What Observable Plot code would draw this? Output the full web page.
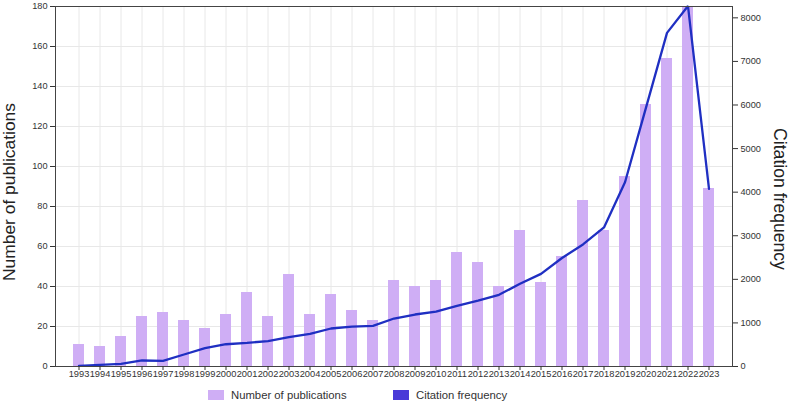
<!DOCTYPE html>
<html>
<head>
<meta charset="utf-8">
<script src="https://cdn.jsdelivr.net/npm/d3@7"></script>
<script src="https://cdn.jsdelivr.net/npm/@observablehq/plot@0.6"></script>
<style>
  html, body { margin: 0; padding: 0; background: #fff; }
  body { width: 789px; height: 405px; overflow: hidden; font-family: "Liberation Sans", Arial, sans-serif; }
  #legend { position: relative; height: 20px; font-size: 11.3px; color: #333; }
  .item { position: absolute; top: 0; height: 20px; display: flex; align-items: center; }
  .sw { width: 16px; height: 10px; margin-right: 7px; }
</style>
</head>
<body>
<div id="chart"></div>
<div id="legend"></div>
<script>
const years = ["1993","1994","1995","1996","1997","1998","1999","2000","2001","2002","2003","2004","2005","2006","2007","2008","2009","2010","2011","2012","2013","2014","2015","2016","2017","2018","2019","2020","2021","2022","2023"];
const publications = [11,10,15,25,27,23,19,26,37,25,46,26,36,28,23,43,40,43,57,52,40,68,42,55,83,68,95,131,154,180,89];
const citations = [16,39,62,138,131,275,420,511,544,580,672,750,872,917,933,1101,1193,1261,1392,1514,1644,1897,2126,2490,2800,3190,4227,5940,7654,8270,4076];
const leftTicks = [0,20,40,60,80,100,120,140,160,180];
const rightTicks = [0,1000,2000,3000,4000,5000,6000,7000,8000];
const leftMax = 180;
const rightMax = 8260;
const barColor = "#cfaef5";
const lineColor = "#1f2fc2";
const legendLineColor = "#4a3ad8";

const data = years.map((y, i) => ({year: y, pubs: publications[i], cit: citations[i]}));
const toLeft = v => v * leftMax / rightMax;

const W = 789, H = 385, mL = 55, mR = 57, mT = 6, mB = 19;

const plot = Plot.plot({
  width: W, height: H,
  marginLeft: mL, marginRight: mR, marginTop: mT, marginBottom: mB,
  style: {fontFamily: "Liberation Sans, Arial, sans-serif", color: "#333", background: "#fff"},
  x: {type: "band", domain: years, paddingInner: 0.5, paddingOuter: 0.25, label: null},
  y: {domain: [0, leftMax], label: null},
  marks: [
    Plot.gridY(leftTicks, {stroke: "#e8e8e8", strokeOpacity: 1}),
    Plot.gridX(years, {stroke: "#e8e8e8", strokeOpacity: 1}),
    Plot.barY(data, {x: "year", y: "pubs", fill: barColor}),
    Plot.line(data, {x: "year", y: d => toLeft(d.cit), stroke: lineColor, strokeWidth: 2.3, strokeLinejoin: "miter"}),
    Plot.frame({stroke: "#444", strokeWidth: 1}),
    Plot.axisY(leftTicks, {anchor: "left", tickSize: 5, tickPadding: 3, fontSize: 9.2, stroke: "#333", label: null}),
    Plot.axisY(rightTicks.map(toLeft), {anchor: "right", tickSize: 5, tickPadding: 3, fontSize: 9.2, stroke: "#333", label: null,
      tickFormat: d => String(Math.round(d * rightMax / leftMax))}),
    Plot.axisX({anchor: "bottom", tickSize: 4, tickPadding: 0, fontSize: 9.3, stroke: "#333", label: null})
  ]
});
document.getElementById("chart").appendChild(plot);

// axis titles
const svg = d3.select(plot);
const yScale = plot.scale("y");
const midY = (yScale.range[0] + yScale.range[1]) / 2;
svg.append("text")
  .attr("transform", `translate(15,${midY + 6}) rotate(-90)`)
  .attr("text-anchor", "middle")
  .attr("font-size", 17.4)
  .attr("fill", "#222")
  .style("font-family", "Liberation Sans, Arial, sans-serif")
  .text("Number of publications");
svg.append("text")
  .attr("transform", `translate(774,${midY + 13}) rotate(90)`)
  .attr("text-anchor", "middle")
  .attr("font-size", 17.6)
  .attr("fill", "#222")
  .style("font-family", "Liberation Sans, Arial, sans-serif")
  .text("Citation frequency");

// legend
const legendItems = [
  {label: "Number of publications", color: barColor, left: 208},
  {label: "Citation frequency", color: legendLineColor, left: 393}
];
const lg = d3.select("#legend");
legendItems.forEach(it => {
  const d = lg.append("div").attr("class", "item").style("left", it.left + "px");
  d.append("div").attr("class", "sw").style("background", it.color);
  d.append("span").text(it.label);
});
</script>
</body>
</html>
